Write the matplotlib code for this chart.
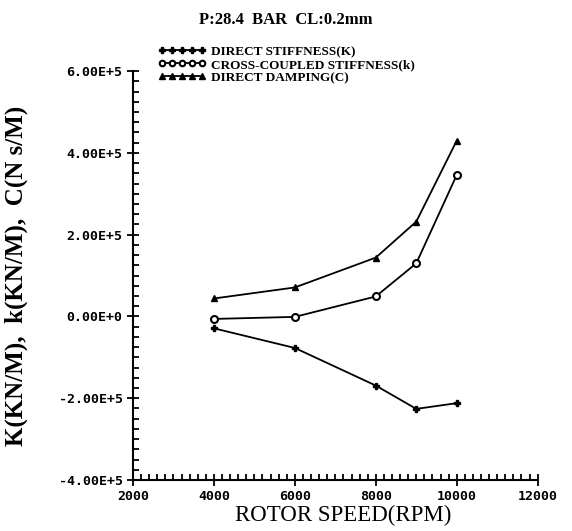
import matplotlib.pyplot as plt
from matplotlib.ticker import MultipleLocator, FuncFormatter

speed = [4000, 6000, 8000, 9000, 10000]
direct_stiffness = [-0.29e5, -0.77e5, -1.69e5, -2.26e5, -2.12e5]
cross_stiffness = [-0.06e5, -0.01e5, 0.49e5, 1.30e5, 3.46e5]
direct_damping = [0.44e5, 0.71e5, 1.44e5, 2.32e5, 4.30e5]

labels = ['DIRECT STIFFNESS(K)', 'CROSS-COUPLED STIFFNESS(k)', 'DIRECT DAMPING(C)']

fig = plt.figure(figsize=(5.72, 5.31), dpi=100)
ax = fig.add_axes([0.2325, 0.096, 0.7075, 0.77])

ax.plot(speed, direct_stiffness, color='black', lw=1.3, marker='P', ms=5, label=labels[0])
ax.plot(speed, cross_stiffness, color='black', lw=1.3, marker='o', ms=5, mfc='white', mew=1.5, label=labels[1])
ax.plot(speed, direct_damping, color='black', lw=1.3, marker='^', ms=5, label=labels[2])

ax.set_xlim(2000, 12000)
ax.set_ylim(-4e5, 6e5)
ax.spines['top'].set_visible(False)
ax.spines['right'].set_visible(False)
ax.spines['left'].set_linewidth(1.5)
ax.spines['bottom'].set_linewidth(1.5)

ax.xaxis.set_major_locator(MultipleLocator(2000))
ax.xaxis.set_minor_locator(MultipleLocator(200))
ax.yaxis.set_major_locator(MultipleLocator(2e5))
ax.yaxis.set_minor_locator(MultipleLocator(0.25e5))

def yfmt(v, pos):
    if abs(v) < 1:
        return '0.00E+0'
    return '%.2fE+5' % (v / 1e5)

ax.yaxis.set_major_formatter(FuncFormatter(yfmt))
ax.tick_params(axis='both', which='major', direction='inout', length=8, width=1.3)
ax.tick_params(axis='both', which='minor', direction='in', length=4, width=1.3)
for t in ax.get_xticklabels() + ax.get_yticklabels():
    t.set_fontfamily('DejaVu Sans Mono')
    t.set_fontweight('bold')
    t.set_fontsize(9.5)
ax.tick_params(axis='x', pad=3)

ax.set_xlabel('ROTOR SPEED(RPM)', fontsize=16.5, family='Liberation Serif')
ax.xaxis.set_label_coords(0.52, -0.062)
ax.set_ylabel('K(KN/M),  k(KN/M),  C(N s/M)', fontsize=18, family='Liberation Serif',
              fontweight='bold')
ax.yaxis.set_label_coords(-0.26, 0.5)

fig.text(0.5, 0.962, 'P:28.4  BAR  CL:0.2mm', ha='center', va='center', fontsize=12,
         family='Liberation Serif', fontweight='bold')

leg = ax.legend(loc='upper left', bbox_to_anchor=(0.05, 1.075), frameon=False, numpoints=5,
                handlelength=3.6, handletextpad=0.4, labelspacing=0.05, borderaxespad=0,
                prop={'family': 'Liberation Serif', 'weight': 'bold', 'size': 9.5})
for h in leg.legend_handles:
    h.set_markersize(4)

plt.savefig('out.png', dpi=100)
